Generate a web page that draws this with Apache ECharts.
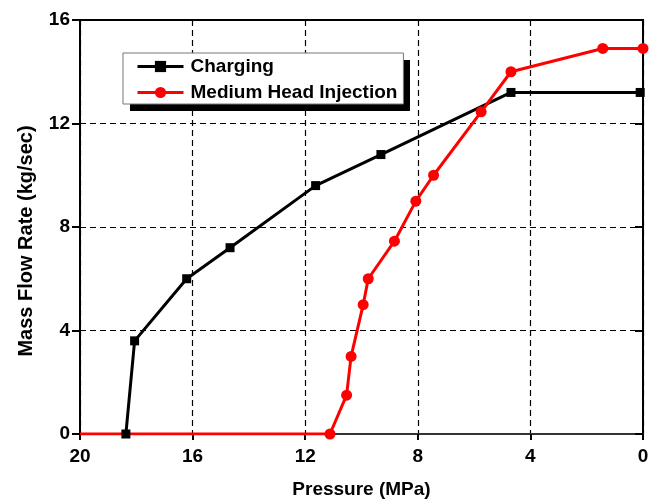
<!DOCTYPE html>
<html>
<head>
<meta charset="utf-8">
<script src="https://cdn.jsdelivr.net/npm/echarts@6/dist/echarts.min.js"></script>
<style>html,body{margin:0;padding:0;background:#fff}#c{width:661px;height:504px}</style>
</head>
<body>
<div id="c"></div>
<script>
// Data
const chargingP = [18.37, 18.06, 16.21, 14.67, 11.63, 9.31, 4.69, 0.1];
const chargingF = [0, 3.6, 6.0, 7.2, 9.6, 10.8, 13.2, 13.2];
const mhiP = [20, 11.12, 10.53, 10.37, 9.94, 9.76, 8.83, 8.07, 7.44, 5.75, 4.69, 1.43, 0];
const mhiF = [0, 0, 1.5, 3.0, 5.0, 6.0, 7.45, 9.0, 10.0, 12.45, 14.0, 14.9, 14.9];
const seriesNames = ['Charging', 'Medium Head Injection'];
const xTitle = 'Pressure (MPa)';
const yTitle = 'Mass Flow Rate (kg/sec)';

const FONT = 'Arial, "Liberation Sans", sans-serif';
const chart = echarts.init(document.getElementById('c'), null, {renderer: 'canvas'});

const chargingData = chargingP.map((p, i) => [p, chargingF[i]]);
const mhiData = mhiP.map((p, i) => {
  const d = {value: [p, mhiF[i]]};
  if (i === 0) d.symbol = 'none';
  return d;
});

const gridLine = {show: true, lineStyle: {color: '#000', type: [6, 4], width: 1.2}};

chart.setOption({
  animation: false,
  backgroundColor: '#fff',
  textStyle: {fontFamily: FONT},
  grid: {left: 80, right: 18, top: 20, bottom: 68, show: true, borderColor: '#000', borderWidth: 2, backgroundColor: 'transparent'},
  legend: {
    orient: 'vertical',
    left: 123, top: 53,
    padding: [4, 6, 2, 13],
    itemGap: 7,
    itemWidth: 46,
    itemHeight: 14,
    backgroundColor: '#fff',
    borderColor: '#777',
    borderWidth: 1,
    borderRadius: 0,
    lineStyle: {width: 3},
    textStyle: {fontFamily: FONT, fontSize: 19, fontWeight: 'bold', color: '#000', lineHeight: 19, padding: [0, 0, 0, 2]},
    data: seriesNames
  },
  xAxis: [{
    type: 'value', inverse: true, min: 0, max: 20, interval: 4,
    name: xTitle, nameLocation: 'middle', nameGap: 46,
    nameTextStyle: {fontFamily: FONT, fontSize: 19, fontWeight: 'bold', color: '#000'},
    axisLine: {show: true, onZero: false, lineStyle: {color: '#000', width: 2}},
    axisTick: {show: true, inside: false, length: 6, lineStyle: {color: '#000', width: 2}},
    axisLabel: {fontFamily: FONT, fontSize: 19, fontWeight: 'bold', color: '#000', margin: 13},
    splitLine: gridLine
  }, {
    type: 'value', inverse: true, min: 0, max: 20, interval: 4, position: 'top',
    axisLine: {show: true, lineStyle: {color: '#333', width: 2}},
    axisTick: {show: true, inside: true, length: 6, lineStyle: {color: '#000', width: 2}},
    axisLabel: {show: false}, splitLine: {show: false}
  }],
  yAxis: [{
    type: 'value', min: 0, max: 16, interval: 4,
    axisLine: {show: true, onZero: false, lineStyle: {color: '#000', width: 2}},
    axisTick: {show: true, inside: false, length: 8, lineStyle: {color: '#000', width: 2}},
    axisLabel: {fontFamily: FONT, fontSize: 19, fontWeight: 'bold', color: '#000', margin: 10},
    splitLine: gridLine
  }, {
    type: 'value', min: 0, max: 16, interval: 4, position: 'right',
    axisLine: {show: true, lineStyle: {color: '#000', width: 2}},
    axisTick: {show: true, inside: true, length: 8, lineStyle: {color: '#000', width: 2}},
    axisLabel: {show: false}, splitLine: {show: false}
  }],
  graphic: [{
    type: 'rect', z: 3, shape: {x: 130, y: 60, width: 280, height: 51},
    style: {fill: '#000'}
  }, {
    type: 'text', x: 26, y: 241, rotation: Math.PI / 2,
    style: {text: yTitle, fontFamily: FONT, fontSize: 20, fontWeight: 'bold', fill: '#000', align: 'center', verticalAlign: 'middle'}
  }],
  series: [{
    name: seriesNames[0], type: 'line', data: chargingData,
    symbol: 'rect', symbolSize: 9, showAllSymbol: true,
    lineStyle: {color: '#000', width: 3},
    itemStyle: {color: '#000'}
  }, {
    name: seriesNames[1], type: 'line', data: mhiData,
    symbol: 'circle', symbolSize: 11, showAllSymbol: true,
    lineStyle: {color: '#ff0000', width: 3},
    itemStyle: {color: '#ff0000'}
  }]
});
</script>
</body>
</html>
